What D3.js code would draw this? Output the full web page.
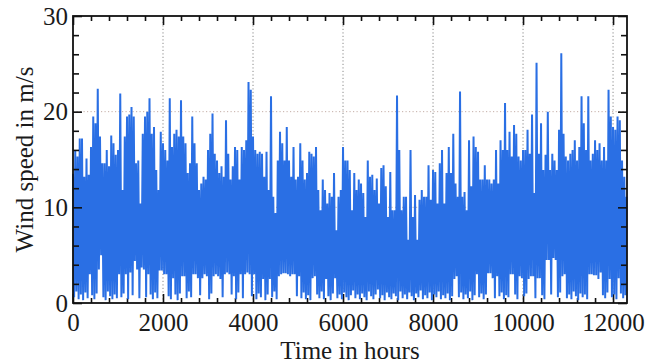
<!DOCTYPE html>
<html>
<head>
<meta charset="utf-8">
<script src="https://cdn.jsdelivr.net/npm/d3@7"></script>
<style>
  body { margin: 0; background: #fff; }
  svg text { font-family: "Liberation Serif", "Times New Roman", serif; fill: #1a1a1a; }
</style>
</head>
<body>
<svg id="chart" width="659" height="364"></svg>
<script>
// wind speed, read per 50 hour bin: highest and lowest value in each bin
const stepHours = 50;
const peakSpeed = [
  13.5, 16.0, 15.3, 17.2, 17.2, 13.2, 15.1, 13.4, 16.3, 19.5,
  18.8, 22.4, 17.4, 14.6, 14.6, 16.0, 14.3, 17.5, 16.7, 15.5,
  16.0, 21.9, 11.8, 17.4, 19.5, 19.7, 20.5, 19.5, 14.6, 14.9,
  10.4, 17.7, 19.5, 20.0, 21.4, 17.7, 18.4, 13.9, 11.8, 17.9,
  16.7, 16.0, 14.9, 21.4, 16.3, 17.7, 18.1, 17.4, 21.2, 17.4,
  16.7, 13.6, 14.6, 19.5, 16.7, 14.6, 11.8, 12.5, 13.2, 12.9,
  16.0, 17.7, 19.8, 15.6, 14.9, 13.6, 14.3, 13.2, 19.1, 15.6,
  12.9, 14.3, 16.3, 16.0, 12.9, 16.3, 16.0, 17.0, 23.1, 22.3,
  17.4, 16.0, 15.6, 15.8, 15.6, 13.2, 15.8, 11.8, 21.6, 11.1,
  9.4, 14.9, 17.9, 16.7, 14.9, 18.4, 14.9, 13.2, 16.3, 12.9,
  13.2, 16.7, 14.9, 12.9, 13.6, 15.8, 15.6, 15.3, 16.3, 11.8,
  9.7, 12.9, 11.8, 10.4, 11.5, 11.1, 13.6, 7.6, 11.1, 11.8,
  16.3, 14.9, 14.9, 13.9, 9.7, 13.6, 11.8, 12.9, 12.5, 11.5,
  9.0, 14.9, 13.2, 13.4, 11.8, 13.0, 10.4, 14.1, 14.4, 12.2,
  9.0, 13.7, 9.7, 9.7, 21.7, 16.0, 9.7, 11.1, 11.1, 6.6,
  16.0, 9.0, 11.3, 6.6, 10.8, 11.8, 11.1, 11.1, 14.4, 10.8,
  13.9, 13.7, 10.4, 14.6, 16.0, 10.4, 13.6, 16.3, 13.6, 17.7,
  12.5, 11.1, 22.1, 11.1, 11.6, 9.7, 17.0, 12.2, 17.4, 16.3,
  15.8, 12.9, 12.9, 14.4, 12.9, 12.9, 12.5, 12.9, 16.0, 12.5,
  17.0, 16.0, 20.9, 16.0, 17.9, 15.3, 18.6, 17.7, 15.3, 14.9,
  16.0, 16.0, 18.1, 15.6, 19.7, 11.5, 25.1, 15.6, 18.8, 13.9,
  15.5, 20.0, 13.9, 15.6, 14.9, 13.9, 18.1, 26.1, 17.7, 15.3,
  14.9, 15.6, 16.0, 17.0, 14.9, 16.3, 21.6, 18.8, 16.0, 21.6,
  14.9, 15.6, 17.0, 16.0, 16.7, 14.9, 16.3, 14.9, 22.3, 19.5,
  18.4, 18.1, 19.5, 19.1, 14.9, 13.2, 11.1
];
const lowSpeed = [
  0.6, 1.2, 0.4, 0.9, 0.3, 1.1, 0.5, 3.0, 0.8, 0.4,
  1.0, 3.5, 5.0, 0.6, 0.3, 1.2, 0.7, 0.4, 0.9, 0.5,
  3.0, 0.6, 1.0, 3.0, 0.4, 3.2, 0.8, 4.4, 3.5, 0.5,
  3.7, 3.5, 0.6, 3.0, 0.9, 0.4, 1.1, 0.5, 3.4, 3.4,
  3.0, 3.0, 0.7, 0.4, 2.6, 0.9, 0.3, 1.0, 2.8, 2.8,
  0.5, 1.2, 0.6, 3.0, 3.0, 2.6, 0.8, 2.6, 3.0, 2.8,
  0.4, 1.0, 2.8, 3.0, 2.8, 2.5, 0.6, 3.0, 3.2, 3.0,
  0.9, 2.8, 0.4, 1.1, 3.0, 0.5, 3.0, 3.2, 3.0, 0.7,
  3.0, 0.4, 1.0, 0.6, 2.5, 0.3, 0.9, 2.5, 0.6, 1.2,
  0.4, 2.8, 3.0, 3.1, 3.1, 3.0, 2.8, 3.0, 3.0, 0.7,
  2.8, 0.5, 1.1, 0.4, 0.8, 0.3, 2.6, 2.8, 0.9, 0.5,
  1.2, 0.4, 2.5, 0.7, 0.3, 1.0, 2.6, 0.5, 0.9, 0.4,
  1.1, 0.6, 0.3, 0.8, 1.3, 0.5, 0.9, 0.4, 1.0, 0.6,
  0.3, 1.2, 0.7, 0.4, 0.9, 1.4, 0.5, 0.8, 0.3, 1.1,
  0.6, 0.4, 1.0, 0.7, 0.3, 1.2, 0.5, 0.9, 0.4, 1.1,
  0.7, 0.3, 1.0, 0.6, 1.3, 0.4, 0.8, 0.5, 1.1, 0.3,
  0.9, 0.6, 1.2, 0.4, 0.8, 0.5, 1.0, 0.3, 0.7, 2.5,
  2.8, 0.6, 1.1, 0.4, 0.9, 0.5, 1.2, 0.3, 0.8, 3.0,
  0.6, 1.0, 0.4, 0.9, 3.1, 3.1, 2.6, 0.5, 2.8, 0.7,
  1.1, 0.4, 0.8, 0.6, 3.0, 3.0, 0.9, 0.4, 2.8, 2.6,
  0.7, 1.0, 2.5, 2.8, 2.8, 0.5, 2.6, 2.6, 0.8, 0.4,
  4.5, 4.5, 0.9, 4.7, 4.5, 0.6, 1.1, 2.8, 3.0, 0.5,
  0.9, 0.4, 1.2, 0.7, 0.3, 1.0, 0.6, 0.9, 0.4, 3.0,
  3.0, 2.9, 2.9, 2.5, 3.2, 0.8, 0.5, 1.1, 2.5, 0.6,
  0.9, 0.4, 2.6, 1.0, 0.5, 0.8, 0.6
];
const xTicks = [0, 2000, 4000, 6000, 8000, 10000, 12000];
const yTicks = [0, 10, 20, 30];
const xLabel = 'Time in hours';
const yLabel = 'Wind speed in m/s';

const svg = d3.select('#chart');
const margin = { top: 16, right: 32, bottom: 61, left: 73 };
const width = 659, height = 364;
const x0 = margin.left, x1 = width - margin.right;
const y0 = height - margin.bottom, y1 = margin.top;

const xScale = d3.scaleLinear().domain([0, 12310]).range([x0, x1]);
const yScale = d3.scaleLinear().domain([0, 30]).range([y0, y1]);

const xMinor = d3.range(0, 12310, 400).filter(d => d % 2000 !== 0);
const yMinor = d3.range(0, 31, 2).filter(d => d % 10 !== 0);

// dotted grid
svg.append('g').selectAll('line').data(xTicks.filter(d => d > 0)).enter()
  .append('line')
  .attr('x1', d => xScale(d)).attr('x2', d => xScale(d))
  .attr('y1', y0).attr('y2', y1)
  .attr('stroke', '#8a8a8a').attr('stroke-width', 1).attr('stroke-dasharray', '1.2,2.3');
svg.append('g').selectAll('line').data([10, 20]).enter()
  .append('line')
  .attr('x1', x0).attr('x2', x1)
  .attr('y1', d => yScale(d)).attr('y2', d => yScale(d))
  .attr('stroke', '#c4aea6').attr('stroke-width', 1).attr('stroke-dasharray', '1.2,2.3');

function styleAxis(g) {
  g.select('.domain').remove();
  g.selectAll('line').attr('stroke', '#111').attr('stroke-width', 1.6);
  g.selectAll('text').attr('font-size', 25).style('fill', '#1a1a1a');
}

// bottom ticks sit under the data
svg.append('g').attr('transform', `translate(0,${y0})`)
  .call(d3.axisBottom(xScale).tickValues(xTicks).tickSize(-9).tickPadding(10).tickFormat(d3.format('d')))
  .call(styleAxis);
svg.append('g').attr('transform', `translate(0,${y0})`)
  .call(d3.axisBottom(xScale).tickValues(xMinor).tickSize(-5).tickFormat(''))
  .call(styleAxis);

// zigzag through bin high / low values
const points = [];
peakSpeed.forEach((v, i) => {
  points.push({ t: i * stepHours, v: v });
  points.push({ t: i * stepHours + stepHours / 2, v: lowSpeed[i] });
});
const line = d3.line()
  .x(d => xScale(d.t))
  .y(d => yScale(d.v));
svg.append('path')
  .datum(points.filter(d => d.t <= 12310))
  .attr('d', line)
  .attr('fill', 'none')
  .attr('stroke', '#2a6fe4')
  .attr('stroke-width', 2)
  .attr('stroke-linejoin', 'bevel');

// remaining ticks over the data
svg.append('g').attr('transform', `translate(${x0},0)`)
  .call(d3.axisLeft(yScale).tickValues(yTicks).tickSize(-9).tickPadding(5).tickFormat(d3.format('d')))
  .call(styleAxis);
svg.append('g').attr('transform', `translate(${x0},0)`)
  .call(d3.axisLeft(yScale).tickValues(yMinor).tickSize(-6).tickFormat(''))
  .call(styleAxis);
svg.append('g').attr('transform', `translate(${x1},0)`)
  .call(d3.axisRight(yScale).tickValues(yTicks).tickSize(-9).tickFormat(''))
  .call(styleAxis);
svg.append('g').attr('transform', `translate(${x1},0)`)
  .call(d3.axisRight(yScale).tickValues(yMinor).tickSize(-6).tickFormat(''))
  .call(styleAxis);
svg.append('g').attr('transform', `translate(0,${y1})`)
  .call(d3.axisTop(xScale).tickValues(xTicks).tickSize(-9).tickFormat(''))
  .call(styleAxis);
svg.append('g').attr('transform', `translate(0,${y1})`)
  .call(d3.axisTop(xScale).tickValues(xMinor).tickSize(-5).tickFormat(''))
  .call(styleAxis);

// frame
svg.append('rect')
  .attr('x', x0).attr('y', y1)
  .attr('width', x1 - x0).attr('height', y0 - y1)
  .attr('fill', 'none').attr('stroke', '#111').attr('stroke-width', 1.8);

// axis titles
svg.append('text')
  .attr('x', (x0 + x1) / 2).attr('y', 359)
  .attr('text-anchor', 'middle').attr('font-size', 25)
  .text(xLabel);
svg.append('text')
  .attr('transform', `translate(33,${(y0 + y1) / 2}) rotate(-90)`)
  .attr('text-anchor', 'middle').attr('font-size', 25)
  .text(yLabel);
</script>
</body>
</html>
